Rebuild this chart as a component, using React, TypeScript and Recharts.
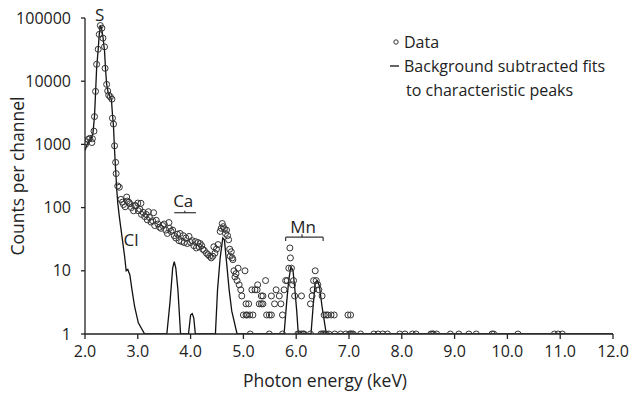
import React from 'react';
import { ComposedChart, Scatter, Line, XAxis, YAxis, ReferenceLine, ReferenceDot } from 'recharts';

// measured spectrum, [keV, counts per channel]
const sPeakData = [
  [2.01, 1000], [2.03, 1100], [2.06, 1200], [2.09, 1250], [2.13, 1070], [2.14, 1230], [2.17, 1620],
  [2.18, 2750], [2.2, 6900], [2.22, 18500], [2.25, 32000], [2.27, 55000], [2.29, 76000], [2.32, 69000],
  [2.34, 48000], [2.37, 35000], [2.38, 16000], [2.41, 8900], [2.43, 7000], [2.45, 6000], [2.48, 5650],
  [2.51, 5200], [2.52, 2600], [2.54, 2100], [2.56, 950], [2.58, 520], [2.59, 345], [2.62, 220], [2.65, 210],
];

const continuumData = [
  [2.68, 135], [2.71, 122], [2.73, 112], [2.76, 103], [2.79, 147], [2.8, 127], [2.83, 122], [2.85, 115],
  [2.88, 100], [2.92, 89], [2.94, 108], [2.96, 107], [3.0, 118], [3.01, 89], [3.04, 94], [3.06, 117],
  [3.07, 78], [3.1, 84], [3.13, 72], [3.16, 78], [3.18, 64], [3.2, 86], [3.22, 70], [3.25, 59], [3.28, 62],
  [3.3, 83], [3.32, 52], [3.35, 63], [3.38, 55], [3.41, 49], [3.44, 47], [3.47, 52], [3.5, 55], [3.53, 44],
  [3.56, 39], [3.59, 58], [3.6, 47], [3.63, 42], [3.66, 44], [3.69, 36], [3.72, 33], [3.75, 38], [3.78, 30],
  [3.8, 39], [3.83, 29], [3.86, 36], [3.88, 28], [3.91, 33], [3.94, 27], [3.97, 35], [4.0, 28], [4.03, 30],
  [4.06, 25], [4.09, 29], [4.11, 23], [4.14, 28], [4.16, 24], [4.18, 27], [4.21, 25], [4.23, 22], [4.26, 21],
  [4.3, 19], [4.33, 18], [4.36, 17], [4.39, 16], [4.42, 17], [4.44, 24], [4.46, 19], [4.49, 22], [4.52, 26],
];

const kPeakData = [
  [4.56, 42], [4.58, 47], [4.6, 56], [4.62, 50], [4.64, 46], [4.66, 39], [4.68, 44], [4.7, 36], [4.72, 31],
  [4.74, 22], [4.75, 17], [4.77, 20], [4.79, 16], [4.8, 15], [4.82, 10], [4.84, 8], [4.86, 9], [4.88, 7],
  [4.9, 11], [4.92, 6], [4.95, 5], [4.97, 4], [5.03, 10], [5.05, 3], [5.07, 2],
];

const lowCountData = [
  [5.0, 2], [5.05, 2], [5.1, 3], [5.12, 2], [5.16, 5], [5.18, 2], [5.22, 5], [5.26, 5], [5.27, 6], [5.3, 3],
  [5.34, 4], [5.34, 3], [5.37, 4], [5.37, 3], [5.42, 7], [5.44, 2], [5.49, 2], [5.53, 4], [5.53, 2], [5.59, 3],
  [5.62, 5], [5.68, 4], [5.71, 3], [5.74, 2], [5.77, 5], [5.8, 7], [5.83, 7], [5.86, 11], [5.88, 23],
  [5.89, 16], [5.91, 11], [5.93, 6], [5.95, 7], [5.97, 4], [6.1, 4], [6.27, 3], [6.3, 4], [6.32, 5],
  [6.33, 7], [6.36, 10], [6.38, 7], [6.41, 6], [6.43, 5], [6.49, 4], [6.53, 2], [6.57, 2], [6.6, 2],
  [6.66, 2], [6.72, 2], [6.98, 2], [7.03, 2],
];

// empty channels sit on the bottom line
const zeroCountData = [
  [5.13, 1], [5.49, 1], [5.74, 1], [6.03, 1], [6.06, 1], [6.1, 1], [6.13, 1], [6.15, 1], [6.27, 1],
  [6.47, 1], [6.5, 1], [6.52, 1], [6.55, 1], [6.57, 1], [6.62, 1], [6.73, 1], [6.84, 1], [6.94, 1],
  [7.01, 1], [7.03, 1], [7.05, 1], [7.08, 1], [7.22, 1], [7.47, 1], [7.55, 1], [7.64, 1], [7.73, 1],
  [7.96, 1], [8.06, 1], [8.2, 1], [8.27, 1], [8.55, 1], [8.58, 1], [8.6, 1], [8.66, 1], [8.92, 1],
  [9.08, 1], [9.27, 1], [9.41, 1], [9.71, 1], [9.74, 1], [10.2, 1], [10.89, 1], [10.96, 1], [11.04, 1],
];

// background subtracted peak fits
const fitCurve = [
  [2.0, 800], [2.04, 1000], [2.08, 1150], [2.12, 1250], [2.15, 1500], [2.18, 2800], [2.2, 6500],
  [2.22, 16000], [2.25, 32000], [2.27, 55000], [2.29, 74000], [2.31, 72000], [2.34, 50000], [2.37, 30000],
  [2.39, 15000], [2.41, 9000], [2.44, 6500], [2.47, 5800], [2.5, 5200], [2.52, 3000], [2.54, 1900],
  [2.56, 800], [2.58, 400], [2.6, 200], [2.62, 120], [2.65, 72], [2.7, 35], [2.75, 17], [2.78, 10],
  [2.81, 10.5], [2.85, 8.6], [2.89, 5], [2.94, 2.7], [3.01, 1.5], [3.13, 1], [3.55, 1], [3.61, 3.2],
  [3.66, 11], [3.69, 14], [3.72, 11], [3.76, 5], [3.81, 1], [3.96, 1], [4.0, 2], [4.03, 2.1], [4.06, 1.8],
  [4.09, 1], [4.47, 1], [4.51, 5], [4.56, 16], [4.61, 33], [4.64, 31], [4.68, 14], [4.73, 5], [4.78, 2.3],
  [4.88, 1], [5.77, 1], [5.82, 3.2], [5.86, 7.3], [5.9, 11.5], [5.94, 10], [5.97, 5.6], [6.01, 2.3],
  [6.04, 1], [6.28, 1], [6.32, 2.7], [6.36, 6.5], [6.4, 7], [6.44, 5.7], [6.49, 2.7], [6.57, 1], [12, 1],
];

const energyTicks = [2, 3, 4, 5, 6, 7, 8, 9, 10, 11, 12];
const countTicks = [1, 10, 100, 1000, 10000, 100000];

const elementLabels = [
  { name: 'S', x: 2.28, y: 112000 },
  { name: 'Cl', x: 2.87, y: 31 },
  { name: 'Ca', x: 3.86, y: 126 },
  { name: 'Mn', x: 6.13, y: 50 },
];

// bracket spans (keV) and heights (counts)
const caBracket = { from: 3.69, to: 4.1, mid: 3.89, y: 83, tip: 89 };
const mnBracket = { from: 5.8, to: 6.51, mid: 6.11, y: 34, tip: 38, end: 29.6 };

const toPoints = (rows: number[][]) => rows.map(([x, y]) => ({ x, y }));
const spectrum = toPoints([...sPeakData, ...continuumData, ...kPeakData, ...lowCountData, ...zeroCountData]);
const fit = toPoints(fitCurve);

const ink = '#222';

const OpenCircle = (props: any) => (
  <circle cx={props.cx} cy={props.cy} r={3} fill="none" stroke="#333" strokeWidth={1} />
);

const bracketSegments = [
  [{ x: caBracket.from, y: caBracket.y }, { x: caBracket.to, y: caBracket.y }],
  [{ x: caBracket.mid, y: caBracket.y }, { x: caBracket.mid, y: caBracket.tip }],
  [{ x: mnBracket.from, y: mnBracket.end }, { x: mnBracket.from, y: mnBracket.y }],
  [{ x: mnBracket.from, y: mnBracket.y }, { x: mnBracket.to, y: mnBracket.y }],
  [{ x: mnBracket.to, y: mnBracket.y }, { x: mnBracket.to, y: mnBracket.end }],
  [{ x: mnBracket.mid, y: mnBracket.y }, { x: mnBracket.mid, y: mnBracket.tip }],
];

export default function App() {
  return (
    <div style={{ position: 'absolute', left: 0, top: 0, width: 640, height: 402, background: '#fff', fontFamily: '"Open Sans", sans-serif', color: ink }}>
      <ComposedChart width={640} height={402} margin={{ top: 18, right: 27, bottom: 0, left: 0 }}>
        <XAxis
          type="number"
          dataKey="x"
          domain={[2, 12]}
          ticks={energyTicks}
          allowDataOverflow
          tickFormatter={(v: number) => v.toFixed(1)}
          height={68}
          tickSize={5}
          tickMargin={7}
          tick={{ fontSize: 16, fill: ink }}
          axisLine={{ stroke: ink, strokeWidth: 1.3 }}
          tickLine={{ stroke: ink, strokeWidth: 1.3 }}
          label={{ value: 'Photon energy (keV)', position: 'insideBottom', offset: 15, dx: -24, style: { fontSize: 17.5, fill: ink } }}
        />
        <YAxis
          type="number"
          dataKey="y"
          scale="log"
          domain={[1, 100000]}
          ticks={countTicks}
          allowDataOverflow
          width={85}
          tickSize={4}
          tickMargin={10}
          tick={{ fontSize: 16, fill: ink }}
          axisLine={{ stroke: ink, strokeWidth: 1.3 }}
          tickLine={{ stroke: ink, strokeWidth: 1.3 }}
          label={{ value: 'Counts per channel', angle: -90, position: 'insideLeft', offset: 18, style: { textAnchor: 'middle', fontSize: 17.5, fill: ink } }}
        />
        <Line data={fit} dataKey="y" type="linear" stroke="#111" strokeWidth={1.3} dot={false} isAnimationActive={false} />
        <Scatter data={spectrum} dataKey="y" shape={OpenCircle} isAnimationActive={false} />
        {bracketSegments.map((seg, i) => (
          <ReferenceLine key={i} segment={seg} stroke="#333" strokeWidth={1.2} ifOverflow="visible" />
        ))}
        {elementLabels.map((el) => (
          <ReferenceDot
            key={el.name}
            x={el.x}
            y={el.y}
            r={0}
            fill="none"
            stroke="none"
            ifOverflow="visible"
            label={{ value: el.name, position: 'center', fontSize: 17, fill: ink }}
          />
        ))}
      </ComposedChart>
      <div style={{ position: 'absolute', left: 388, top: 30, fontSize: 16, lineHeight: '24px', whiteSpace: 'nowrap' }}>
        <div style={{ display: 'flex', alignItems: 'center' }}>
          <svg width={16} height={10}><circle cx={8} cy={5} r={2.2} fill="none" stroke="#333" strokeWidth={1} /></svg>
          <span>Data</span>
        </div>
        <div style={{ display: 'flex', alignItems: 'center' }}>
          <svg width={16} height={10}><line x1={2} y1={5} x2={11} y2={5} stroke="#111" strokeWidth={1.3} /></svg>
          <span>Background subtracted fits</span>
        </div>
        <div style={{ paddingLeft: 18 }}>to characteristic peaks</div>
      </div>
    </div>
  );
}
